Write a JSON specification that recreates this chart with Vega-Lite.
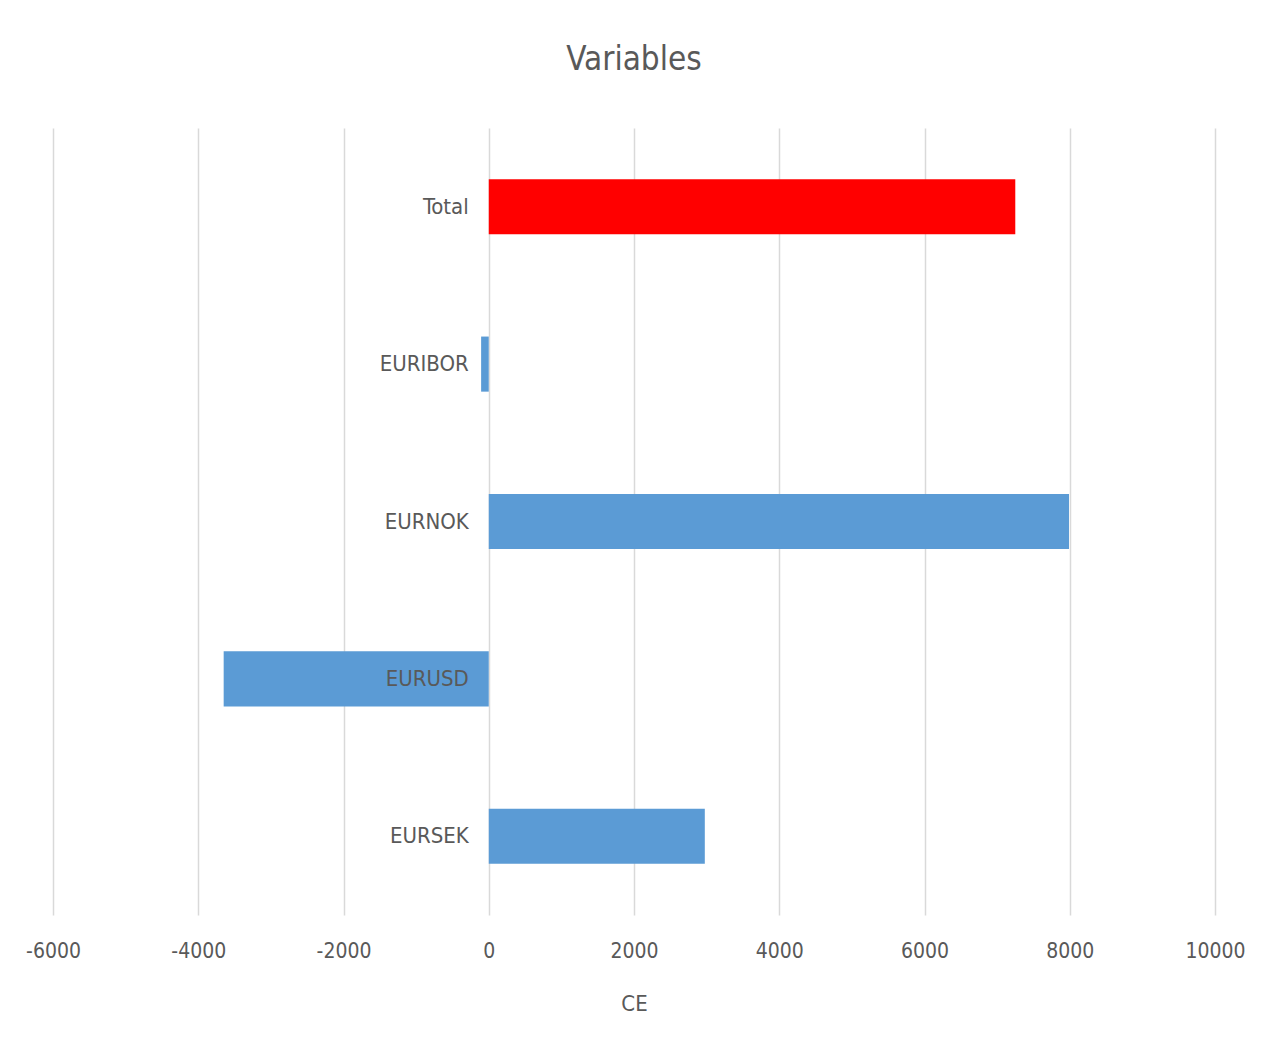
{
  "$schema": "https://vega.github.io/schema/vega-lite/v6.json",
  "autosize": {"type": "none"},
  "width": 1162,
  "height": 787,
  "padding": {"left": 53, "top": 128, "right": 52, "bottom": 147},
  "background": "white",
  "title": {
    "text": "Variables",
    "anchor": "middle",
    "font": "DejaVu Sans Condensed, sans-serif",
    "fontSize": 33,
    "fontWeight": "normal",
    "color": "#595959",
    "baseline": "alphabetic",
    "offset": 25
  },
  "data": {
    "values": [
      {"variable": "Total", "CE": 7250, "group": "Total"},
      {"variable": "EURIBOR", "CE": -105, "group": "Variable"},
      {"variable": "EURNOK", "CE": 7990, "group": "Variable"},
      {"variable": "EURUSD", "CE": -3650, "group": "Variable"},
      {"variable": "EURSEK", "CE": 2975, "group": "Variable"}
    ]
  },
  "config": {
    "view": {"stroke": null},
    "font": "DejaVu Sans Condensed, sans-serif"
  },
  "encoding": {
    "y": {
      "field": "variable",
      "type": "nominal",
      "sort": null,
      "scale": {"paddingInner": 0.65, "paddingOuter": 0.325},
      "axis": null
    }
  },
  "layer": [
    {
      "mark": {"type": "bar"},
      "encoding": {
        "x": {
          "field": "CE",
          "type": "quantitative",
          "scale": {"domain": [-6000, 10000], "nice": false},
          "axis": {
            "values": [-6000, -4000, -2000, 0, 2000, 4000, 6000, 8000, 10000],
            "labelExpr": "'' + datum.value",
            "labelFlush": false,
            "labelOverlap": false,
            "title": "CE",
            "titleFont": "DejaVu Sans Condensed, sans-serif",
            "titleFontSize": 22,
            "titleFontWeight": "normal",
            "titleColor": "#595959",
            "titlePadding": 32,
            "labelFont": "DejaVu Sans Condensed, sans-serif",
            "labelFontSize": 21,
            "labelColor": "#595959",
            "labelPadding": 25,
            "ticks": false,
            "domain": false,
            "grid": true,
            "gridColor": "#d9d9d9",
            "gridWidth": 1.5
          }
        },
        "color": {
          "field": "group",
          "type": "nominal",
          "scale": {"domain": ["Total", "Variable"], "range": ["#ff0000", "#5b9bd5"]},
          "legend": null
        }
      }
    },
    {
      "mark": {
        "type": "text",
        "align": "right",
        "baseline": "middle",
        "dx": -20,
        "fontSize": 22,
        "color": "#595959"
      },
      "encoding": {
        "x": {"datum": 0, "type": "quantitative"},
        "text": {"field": "variable"}
      }
    }
  ]
}
